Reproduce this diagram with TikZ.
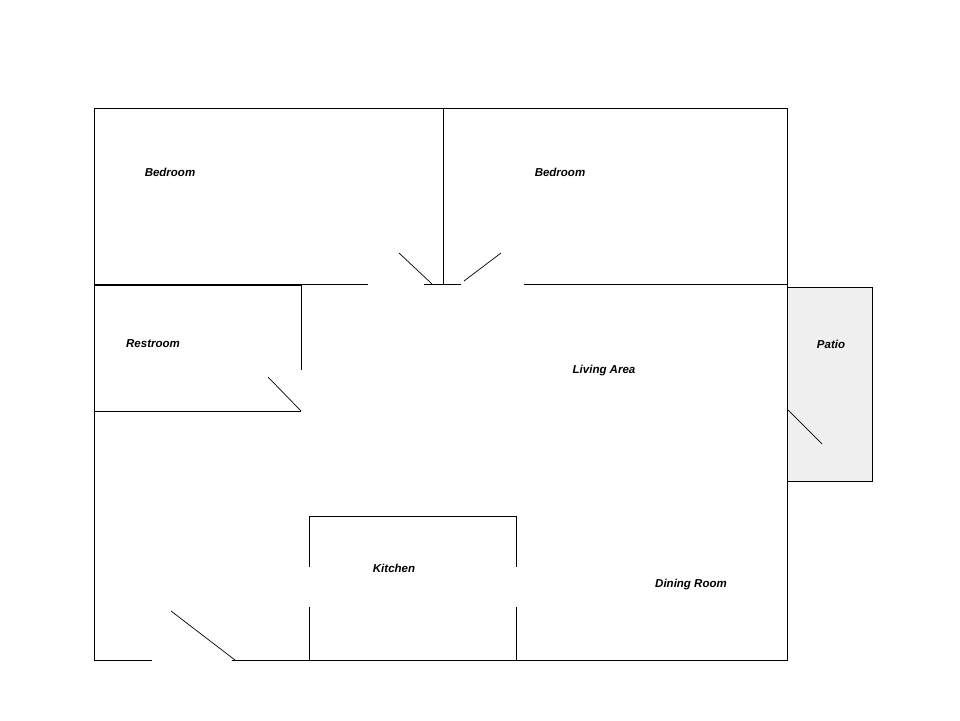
\documentclass[tikz,border=0pt]{standalone}
\usepackage{fontspec}
\setmainfont{Liberation Sans}
\begin{document}
\begin{tikzpicture}[x=1pt,y=-1pt,wall/.style={draw=black,line width=0.8pt},door/.style={draw=black,line width=0.7pt},lbl/.style={font=\bfseries\itshape\fontsize{11.5}{13}\selectfont,inner sep=0pt}]
\useasboundingbox (0,0) rectangle (960,720);
\fill[white] (0,0) rectangle (960,720);
% patio
\filldraw[fill=black!6,draw=black,line width=0.8pt] (787,287) rectangle (872,481);
% outer walls
\draw[wall] (152,660) -- (94,660) -- (94,108) -- (787,108) -- (787,410);
\draw[wall] (787,470) -- (787,660) -- (232,660);
\draw[door] (171,611) -- (235,660);
\draw[door] (788,410) -- (822,444);
% bedroom divider
\draw[wall] (443,108) -- (443,284);
\draw[wall] (94,284) -- (368,284);
\draw[wall] (424,284) -- (461,284);
\draw[wall] (524,284) -- (787,284);
\draw[door] (399,253) -- (432,284);
\draw[door] (501,253) -- (464,281);
% restroom
\draw[wall,line width=1.4pt] (94,285.5) -- (301,285.5);
\draw[wall] (301,285) -- (301,370);
\draw[wall] (94,411) -- (301,411);
\draw[door] (268,377) -- (301,411);
% kitchen
\draw[wall] (309,567) -- (309,516) -- (516,516) -- (516,567);
\draw[wall] (309,607) -- (309,660);
\draw[wall] (516,607) -- (516,660);
% labels
\node[lbl] (b1) at (170,172) {Bedroom};
\node[lbl] (b2) at (560,172) {Bedroom};
\node[lbl] (rr) at (153,344) {Restroom};
\node[lbl] (la) at (604,371) {Living Area};
\node[lbl] (pt) at (831,344) {Patio};
\node[lbl] (kt) at (394,568) {Kitchen};
\node[lbl] (dr) at (691,585) {Dining Room};
\end{tikzpicture}
\end{document}
